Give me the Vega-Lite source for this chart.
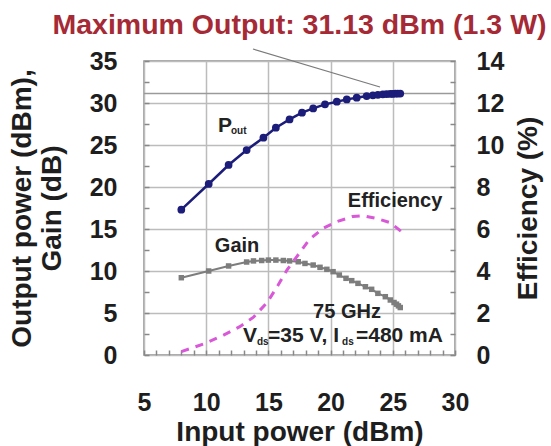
{
  "$schema": "https://vega.github.io/schema/vega-lite/v6.json",
  "width": 311,
  "height": 294,
  "autosize": "none",
  "padding": {"left": 144, "top": 61, "right": 96, "bottom": 91},
  "background": "white",
  "config": {
    "view": {"stroke": "#8c8c8c", "strokeWidth": 1.5},
    "font": "Liberation Sans"
  },
  "title": {
    "text": "Maximum Output: 31.13 dBm (1.3 W)",
    "font": "Liberation Sans",
    "fontSize": 28.5,
    "fontWeight": "bold",
    "color": "#a52a35",
    "anchor": "middle",
    "baseline": "alphabetic",
    "offset": -14
  },
  "datasets": {
    "pout": [
      {"x": 8.0, "y": 17.3}, {"x": 10.2, "y": 20.36}, {"x": 11.8, "y": 22.62}, {"x": 13.25, "y": 24.4},
      {"x": 14.6, "y": 25.87}, {"x": 15.6, "y": 27.06}, {"x": 16.7, "y": 28.05}, {"x": 17.7, "y": 28.85},
      {"x": 18.6, "y": 29.36}, {"x": 19.55, "y": 29.84}, {"x": 20.5, "y": 30.15}, {"x": 21.3, "y": 30.43},
      {"x": 22.1, "y": 30.63}, {"x": 22.9, "y": 30.83}, {"x": 23.4, "y": 30.92}, {"x": 23.8, "y": 30.98},
      {"x": 24.2, "y": 31.03}, {"x": 24.5, "y": 31.06}, {"x": 24.8, "y": 31.08}, {"x": 25.0, "y": 31.1},
      {"x": 25.2, "y": 31.11}, {"x": 25.4, "y": 31.12}, {"x": 25.6, "y": 31.13}
    ],
    "gain": [
      {"x": 8.0, "y": 9.2}, {"x": 10.2, "y": 10.0}, {"x": 11.8, "y": 10.6}, {"x": 13.25, "y": 11.07},
      {"x": 13.8, "y": 11.2}, {"x": 14.46, "y": 11.25}, {"x": 15.0, "y": 11.3}, {"x": 15.6, "y": 11.3},
      {"x": 16.2, "y": 11.25}, {"x": 16.7, "y": 11.2}, {"x": 17.4, "y": 11.1}, {"x": 17.94, "y": 10.9},
      {"x": 18.6, "y": 10.71}, {"x": 19.15, "y": 10.44}, {"x": 19.7, "y": 10.2}, {"x": 20.2, "y": 9.92},
      {"x": 20.7, "y": 9.52}, {"x": 21.24, "y": 9.13}, {"x": 21.7, "y": 8.85}, {"x": 22.2, "y": 8.53},
      {"x": 22.8, "y": 8.13}, {"x": 23.3, "y": 7.82}, {"x": 23.8, "y": 7.34}, {"x": 24.4, "y": 6.94},
      {"x": 24.8, "y": 6.55}, {"x": 25.1, "y": 6.25}, {"x": 25.3, "y": 6.05}, {"x": 25.45, "y": 5.85},
      {"x": 25.6, "y": 5.65}
    ],
    "eff": [
      {"x": 8.0, "e": 0.16}, {"x": 9.9, "e": 0.55}, {"x": 11.4, "e": 0.95}, {"x": 12.7, "e": 1.35},
      {"x": 13.8, "e": 1.8}, {"x": 14.9, "e": 2.5}, {"x": 15.7, "e": 3.25}, {"x": 16.5, "e": 4.05},
      {"x": 17.3, "e": 4.7}, {"x": 18.3, "e": 5.5}, {"x": 19.4, "e": 6.03}, {"x": 20.5, "e": 6.35},
      {"x": 21.8, "e": 6.6}, {"x": 22.6, "e": 6.63}, {"x": 23.7, "e": 6.5}, {"x": 24.8, "e": 6.3},
      {"x": 25.7, "e": 5.87}
    ],
    "hline": [{"x": 5, "x2": 30, "y": 31.13}],
    "leader": [{"x": 13.76, "y": 36.43, "x2": 23.97, "y2": 31.9}],
    "labelsCenter": [
      {"x": 21.32, "y": 5.12, "t": "75 GHz"},
      {"x": 12.48, "y": 12.92, "t": "Gain"},
      {"x": 25.18, "y": 18.33, "t": "Efficiency"}
    ],
    "labelsLeft": [
      {"x": 10.95, "y": 27.32, "t": "P"},
      {"x": 12.96, "y": 2.26, "t": "V"},
      {"x": 14.97, "y": 2.26, "t": "=35 V, I"},
      {"x": 22.04, "y": 2.26, "t": "=480 mA"}
    ],
    "labelsSub": [
      {"x": 11.99, "y": 26.67, "t": "out"},
      {"x": 14.08, "y": 1.55, "t": "ds"},
      {"x": 20.92, "y": 1.55, "t": "ds"}
    ]
  },
  "encoding": {
    "x": {
      "field": "x", "type": "quantitative",
      "scale": {"domain": [5, 30], "nice": false, "zero": false},
      "axis": {
        "title": "Input power (dBm)",
        "values": [5,6,7,8,9,10,11,12,13,14,15,16,17,18,19,20,21,22,23,24,25,26,27,28,29,30],
        "labelExpr": "datum.value % 5 === 0 ? datum.label : ''",
        "domain": false,
        "grid": true,
        "gridWidth": 1.5,
        "gridColor": {"condition": {"test": "datum.value % 5 !== 0", "value": "rgba(0,0,0,0)"}, "value": "#bcbcbc"},
        "tickSize": -5,
        "tickWidth": 1.5,
        "tickColor": "#888888",
        "labelFont": "Liberation Sans",
        "labelFontSize": 25,
        "labelFontWeight": "bold",
        "labelColor": "#1e1e1e",
        "labelPadding": 40,
        "labelFlush": false,
        "labelOverlap": false,
        "titleFont": "Liberation Sans",
        "titleFontSize": 28,
        "titleFontWeight": "bold",
        "titleColor": "#1e1e1e",
        "titleX": 155.5,
        "titleY": 85,
        "titleBaseline": "alphabetic",
        "titleAlign": "center"
      }
    }
  },
  "layer": [
    {
      "encoding": {
        "y": {
          "field": "y", "type": "quantitative",
          "scale": {"domain": [0, 35], "nice": false},
          "axis": {
            "title": ["Output power (dBm),", "Gain (dB)"],
            "values": [0,2.5,5,7.5,10,12.5,15,17.5,20,22.5,25,27.5,30,32.5,35],
            "labelExpr": "datum.value % 5 === 0 ? datum.label : ''",
            "domain": false,
            "grid": true,
            "gridWidth": 1.5,
            "gridColor": {"condition": {"test": "datum.value % 5 !== 0", "value": "rgba(0,0,0,0)"}, "value": "#bcbcbc"},
            "tickSize": -5,
            "tickWidth": 1.5,
            "tickColor": "#888888",
            "labelFont": "Liberation Sans",
            "labelFontSize": 25,
            "labelFontWeight": "bold",
            "labelColor": "#1e1e1e",
            "labelPadding": 32,
            "labelFlush": false,
            "labelOverlap": false,
            "titleFont": "Liberation Sans",
            "titleFontSize": 28,
            "titleFontWeight": "bold",
            "titleColor": "#1e1e1e",
            "titleAngle": -90,
            "titleX": -122,
            "titleY": 147,
            "titleBaseline": "middle",
            "titleAlign": "center",
            "titleLineHeight": 30
          }
        }
      },
      "layer": [
        {
          "data": {"name": "hline"},
          "mark": {"type": "rule", "color": "#9a9a9a", "strokeWidth": 1.5},
          "encoding": {"x2": {"field": "x2"}}
        },
        {
          "data": {"name": "leader"},
          "mark": {"type": "rule", "color": "#7a7a7a", "strokeWidth": 1.2},
          "encoding": {"x2": {"field": "x2"}, "y2": {"field": "y2"}}
        },
        {
          "data": {"name": "gain"},
          "mark": {"type": "line", "color": "#7d7d7d", "strokeWidth": 2, "point": {"shape": "square", "size": 30, "filled": true, "color": "#7d7d7d"}},
          "encoding": {}
        },
        {
          "data": {"name": "pout"},
          "mark": {"type": "line", "color": "#1c1c7a", "strokeWidth": 2.5, "point": {"shape": "circle", "size": 60, "filled": true, "color": "#1c1c7a"}},
          "encoding": {}
        },
        {
          "data": {"name": "labelsCenter"},
          "mark": {"type": "text", "font": "Liberation Sans", "fontSize": 20, "fontWeight": "bold", "color": "#222222", "align": "center", "baseline": "middle"},
          "encoding": {"text": {"field": "t"}}
        },
        {
          "data": {"name": "labelsLeft"},
          "mark": {"type": "text", "font": "Liberation Sans", "fontSize": 21, "fontWeight": "bold", "color": "#222222", "align": "left", "baseline": "middle"},
          "encoding": {"text": {"field": "t"}}
        },
        {
          "data": {"name": "labelsSub"},
          "mark": {"type": "text", "font": "Liberation Sans", "fontSize": 10, "fontWeight": "bold", "color": "#222222", "align": "left", "baseline": "middle"},
          "encoding": {"text": {"field": "t"}}
        }
      ]
    },
    {
      "data": {"name": "eff"},
      "mark": {"type": "line", "color": "#d858d8", "strokeWidth": 3, "strokeDash": [8, 7]},
      "encoding": {
        "y": {
          "field": "e", "type": "quantitative",
          "scale": {"domain": [0, 14], "nice": false},
          "axis": {
            "orient": "right",
            "title": "Efficiency (%)",
            "values": [0,1,2,3,4,5,6,7,8,9,10,11,12,13,14],
            "labelExpr": "datum.value % 2 === 0 ? datum.label : ''",
            "domain": false,
            "grid": false,
            "tickSize": -5,
            "tickWidth": 1.5,
            "tickColor": "#888888",
            "labelFont": "Liberation Sans",
            "labelFontSize": 25,
            "labelFontWeight": "bold",
            "labelColor": "#1e1e1e",
            "labelPadding": 26,
            "labelAlign": "left",
            "labelFlush": false,
            "labelOverlap": false,
            "titleFont": "Liberation Sans",
            "titleFontSize": 28,
            "titleFontWeight": "bold",
            "titleColor": "#1e1e1e",
            "titleAngle": -90,
            "titleX": 73,
            "titleY": 147,
            "titleBaseline": "middle",
            "titleAlign": "center"
          }
        }
      }
    }
  ],
  "resolve": {"scale": {"y": "independent"}}
}
